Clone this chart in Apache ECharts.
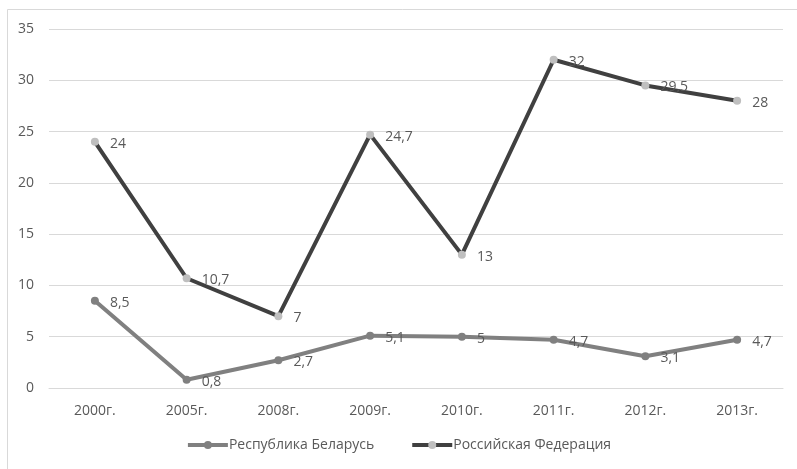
<!DOCTYPE html>
<html>
<head>
<meta charset="utf-8">
<script src="https://cdn.jsdelivr.net/npm/echarts@6/dist/echarts.min.js"></script>
<style>
  html, body { margin: 0; padding: 0; background: #fff; }
  #chart { width: 797px; height: 469px; }
</style>
</head>
<body>
<div id="chart"></div>
<script>
// Years on the category axis
var years = ['2000г.', '2005г.', '2008г.', '2009г.', '2010г.', '2011г.', '2012г.', '2013г.'];
// Series values
var belarus = [8.5, 0.8, 2.7, 5.1, 5, 4.7, 3.1, 4.7];
var russia = [24, 10.7, 7, 24.7, 13, 32, 29.5, 28];
var seriesNames = ['Республика Беларусь', 'Российская Федерация'];

var fontFamily = '"Open Sans", "DejaVu Sans", sans-serif';
var textColor = '#595959';
var fontSize = 14;

function fmt(v) { return String(v).replace('.', ','); }

var chart = echarts.init(document.getElementById('chart'), null, { renderer: 'canvas' });
chart.setOption({
  animation: false,
  backgroundColor: '#fff',
  graphic: [{
    type: 'rect',
    shape: { x: 7.5, y: 9.5, width: 800, height: 470 },
    style: { fill: 'none', stroke: '#d9d9d9', lineWidth: 1 },
    silent: true
  }],
  grid: { left: 49, right: 14, top: 29, bottom: 81, containLabel: false },
  legend: {
    bottom: 12,
    left: 'center',
    itemWidth: 40,
    itemHeight: 10,
    itemGap: 36,
    lineStyle: { width: 4 },
    textStyle: { color: textColor, fontSize: fontSize, fontFamily: fontFamily, padding: [0, 0, 0, -4] },
    data: seriesNames
  },
  xAxis: {
    type: 'category',
    data: years,
    boundaryGap: true,
    axisLine: { show: true, lineStyle: { color: '#d9d9d9' } },
    axisTick: { show: false },
    axisLabel: { color: textColor, fontSize: fontSize, fontFamily: fontFamily, margin: 16 }
  },
  yAxis: {
    type: 'value',
    min: 0,
    max: 35,
    interval: 5,
    axisLine: { show: false },
    axisTick: { show: false },
    splitLine: { lineStyle: { color: '#d9d9d9', width: 1 } },
    axisLabel: { color: textColor, fontSize: fontSize, fontFamily: fontFamily, margin: 15 }
  },
  series: [
    {
      name: seriesNames[0],
      type: 'line',
      data: belarus,
      symbol: 'circle',
      symbolSize: 8,
      lineStyle: { color: '#808080', width: 4 },
      itemStyle: { color: '#808080' },
      label: {
        show: true, position: 'right', distance: 11, offset: [0, 2],
        color: textColor, fontSize: fontSize, fontFamily: fontFamily,
        formatter: function (p) { return fmt(p.value); }
      },
      z: 2
    },
    {
      name: seriesNames[1],
      type: 'line',
      data: russia,
      symbol: 'circle',
      symbolSize: 8,
      lineStyle: { color: '#404040', width: 4 },
      itemStyle: { color: '#bfbfbf' },
      label: {
        show: true, position: 'right', distance: 11, offset: [0, 2],
        color: textColor, fontSize: fontSize, fontFamily: fontFamily,
        formatter: function (p) { return fmt(p.value); }
      },
      z: 3
    }
  ]
});
</script>
</body>
</html>
